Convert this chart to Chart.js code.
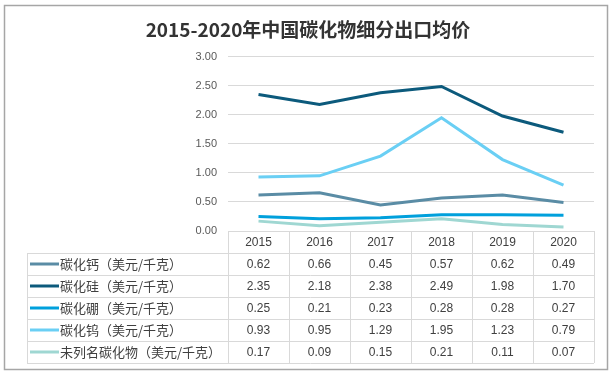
<!DOCTYPE html>
<html>
<head>
<meta charset="utf-8">
<script src="https://cdn.jsdelivr.net/npm/chart.js@4.4.1/dist/chart.umd.min.js"></script>
<style>
  html, body { margin: 0; padding: 0; background: #fff; }
  #wrap { width: 616px; height: 384px; }
</style>
</head>
<body>
<div id="wrap"><canvas id="myChart" width="616" height="384"></canvas></div>
<script>
const years = ['2015', '2016', '2017', '2018', '2019', '2020'];
const caCarbide = [0.62, 0.66, 0.45, 0.57, 0.62, 0.49];
const siCarbide = [2.35, 2.18, 2.38, 2.49, 1.98, 1.70];
const bCarbide = [0.25, 0.21, 0.23, 0.28, 0.28, 0.27];
const wCarbide = [0.93, 0.95, 1.29, 1.95, 1.23, 0.79];
const otherCarbide = [0.17, 0.09, 0.15, 0.21, 0.11, 0.07];
const yTicks = [0, 0.5, 1, 1.5, 2, 2.5, 3];

const seriesNames = ['碳化钙（美元/千克）', '碳化硅（美元/千克）', '碳化硼（美元/千克）', '碳化钨（美元/千克）', '未列名碳化物（美元/千克）'];
const seriesColors = ['#5a8ca5', '#0c5a7c', '#00a0dc', '#6acff4', '#9fd7d2'];
const seriesData = [caCarbide, siCarbide, bCarbide, wCarbide, otherCarbide];

const latin = '"Liberation Sans", "Noto Sans CJK SC", sans-serif';
const cjk = '"Noto Sans CJK SC", "Liberation Sans", sans-serif';

// draws the outer frame and the data table under the plot
const tablePlugin = {
  id: 'dataTable',
  beforeDraw(chart) {
    const c = chart.ctx;
    c.save();
    c.strokeStyle = '#a6a6a6';
    c.lineWidth = 1.5;
    c.strokeRect(4.5, 5.5, 603, 364);
    c.restore();
  },
  afterDraw(chart) {
    const c = chart.ctx;
    const x = chart.scales.x;
    const area = chart.chartArea;
    const top = area.bottom;
    const headH = 22;
    const rowH = 22;
    const left = 27;
    const colW = (area.right - area.left) / years.length;
    c.save();
    c.strokeStyle = '#d9d9d9';
    c.lineWidth = 1;
    // header row
    c.beginPath();
    c.moveTo(area.left, top + 0.5);
    c.lineTo(area.right, top + 0.5);
    for (let i = 0; i <= years.length; i++) {
      const px = Math.round(area.left + i * colW) + 0.5;
      c.moveTo(px, top);
      c.lineTo(px, top + headH + rowH * seriesNames.length);
    }
    c.moveTo(left + 0.5, top + headH);
    c.lineTo(left + 0.5, top + headH + rowH * seriesNames.length);
    for (let r = 0; r <= seriesNames.length; r++) {
      const py = Math.round(top + headH + r * rowH) + 0.5;
      c.moveTo(left, py);
      c.lineTo(area.right, py);
    }
    c.stroke();

    c.fillStyle = '#404040';
    c.textAlign = 'center';
    c.textBaseline = 'middle';
    c.font = '12px ' + latin;
    years.forEach((yr, i) => {
      c.fillText(yr, x.getPixelForValue(i), top + headH / 2 + 1);
    });
    seriesNames.forEach((name, r) => {
      const cy = top + headH + r * rowH + rowH / 2;
      c.strokeStyle = seriesColors[r];
      c.lineWidth = 3;
      c.beginPath();
      c.moveTo(30, cy);
      c.lineTo(59, cy);
      c.stroke();
      c.textAlign = 'left';
      c.font = '13px ' + cjk;
      c.fillStyle = '#404040';
      c.fillText(name, 60, cy);
      c.textAlign = 'center';
      c.font = '12px ' + latin;
      seriesData[r].forEach((v, i) => {
        c.fillText(v.toFixed(2), x.getPixelForValue(i), cy + 1);
      });
    });
    c.restore();
  }
};

const ctx = document.getElementById('myChart').getContext('2d');

const chartData = {
  labels: years,
  datasets: seriesNames.map((name, i) => ({
    label: name,
    data: seriesData[i],
    borderColor: seriesColors[i],
    backgroundColor: seriesColors[i],
    borderWidth: 3,
    pointRadius: 0,
    tension: 0
  }))
};

const chartConfig = {
  type: 'line',
  data: chartData,
  options: {
    responsive: false,
    animation: false,
    layout: {
      padding: { left: 22, right: 22, top: 9, bottom: 153 }
    },
    plugins: {
      legend: { display: false },
      tooltip: { enabled: false },
      title: {
        display: true,
        text: '2015-2020年中国碳化物细分出口均价',
        color: '#333333',
        font: { family: cjk, size: 19, weight: 'bold', lineHeight: 1.2 },
        padding: { top: 9, bottom: 16 }
      }
    },
    scales: {
      x: {
        display: false,
        offset: true
      },
      y: {
        min: 0,
        max: 3,
        afterFit: scale => { scale.width = 206; },
        afterBuildTicks: scale => { scale.ticks = yTicks.map(v => ({ value: v })); },
        border: { display: false },
        grid: { color: '#d9d9d9', drawTicks: false },
        ticks: {
          padding: 11,
          color: '#595959',
          font: { family: latin, size: 11 },
          callback: v => v.toFixed(2)
        }
      }
    }
  },
  plugins: [tablePlugin]
};

const myChart = new Chart(ctx, chartConfig);
</script>
</body>
</html>
